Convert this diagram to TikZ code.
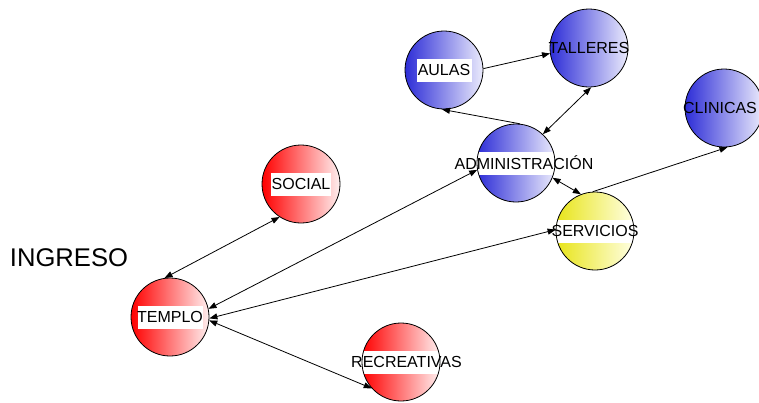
\documentclass[tikz,border=0pt]{standalone}
\usepackage{fontspec}
\setmainfont{Liberation Sans}
\usetikzlibrary{arrows.meta}
\newcommand{\stname}[2][0pt]{\makebox[0pt]{\hspace*{#1}#2}}

\begin{document}
\begin{tikzpicture}[
  x=1pt, y=-1pt,
  station/.style={circle, draw, line width=0.8pt, minimum size=78pt,
    inner sep=0pt, font=\fontsize{16}{19}\selectfont},
  redst/.style={station, left color=red, right color=red!6},
  bluest/.style={station, left color={rgb,255:red,45;green,45;blue,215}, right color={rgb,255:red,235;green,235;blue,252}},
  yellowst/.style={station, left color={rgb,255:red,232;green,228;blue,25}, right color={rgb,255:red,255;green,255;blue,228}},
  band/.style={path picture={\fill[white]
    ([xshift=-#1,yshift=-11.5pt]path picture bounding box.center) rectangle
    ([xshift=#1,yshift=11.5pt]path picture bounding box.center);}},
  oneway/.style={-{Triangle[length=8pt,width=6pt]}, line width=0.8pt},
  twoway/.style={{Triangle[length=8pt,width=6pt]}-{Triangle[length=8pt,width=6pt]}, line width=0.8pt}
]
\fill[white] (0,0) rectangle (759,402);
\useasboundingbox (0,0) rectangle (759,402);

\node[font=\fontsize{25.6}{30}\selectfont] (ingreso) at (69,258) {INGRESO};

\node[redst, band=32.5pt] (templo) at (170,317) {\stname{TEMPLO}};
\node[redst, band=30pt] (social) at (301,184) {\stname{SOCIAL}};
\node[redst, band=45pt] (recreativas) at (401,362) {\stname[11pt]{RECREATIVAS}};
\node[bluest, band=27.5pt] (aulas) at (444,70) {\stname{AULAS}};
\node[bluest] (talleres) at (589,48) {\stname{TALLERES}};
\node[bluest, band=45pt] (admin) at (516,163) {\stname[16pt]{ADMINISTRACIÓN}};
\node[yellowst, band=45pt] (servicios) at (595,231) {\stname{SERVICIOS}};
\node[bluest] (clinicas) at (724,108) {\stname[-8pt]{CLINICAS}};

\draw[twoway] (templo.98) -- (social.237);
\draw[twoway] (templo.12) -- (admin.190);
\draw[twoway] (templo.358) -- (servicios.178);
\draw[twoway] (templo.355) -- (recreativas.222);
\draw[oneway] (admin.84) -- (aulas.267);
\draw[oneway] (aulas.2) -- (talleres.188);
\draw[twoway] (admin.47) -- (talleres.273);
\draw[twoway] (admin.338) -- (servicios.111);
\draw[oneway] (servicios.93) -- (clinicas.275);
\end{tikzpicture}
\end{document}
